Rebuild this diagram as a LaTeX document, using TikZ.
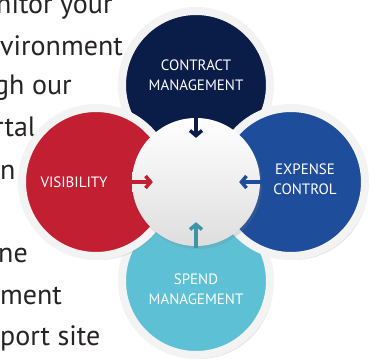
\documentclass[tikz,border=0pt]{standalone}
\usepackage{fontspec}
\setmainfont{PT Sans}
\usetikzlibrary{shadows,arrows.meta}
\definecolor{navyc}{HTML}{0A1C48}
\definecolor{redc}{HTML}{C21F32}
\definecolor{bluec}{HTML}{1E4D9B}
\definecolor{skyc}{HTML}{5EC0D5}
\definecolor{tealc}{HTML}{3F95A8}
\definecolor{rimc}{HTML}{F3F3F3}
\definecolor{textc}{HTML}{262324}
\begin{document}
\begin{tikzpicture}[x=1pt, y=1pt, node distance={97pt},
		main/.style = {circle, draw=rimc, line width=8pt, minimum size=148pt, drop shadow={opacity=0.22, shadow xshift=3pt, shadow yshift=-4pt}},
		hub/.style = {circle, minimum size=128pt, top color=white, bottom color=black!13, drop shadow={opacity=0.2, shadow xshift=2pt, shadow yshift=-3pt}},
		arr/.style = {line width=3.5pt, -{Straight Barb[length=5pt, width=12pt]}},
		side/.style = {anchor=base west, inner sep=0pt, text=textc, font=\fontsize{28}{34}\selectfont},
		every label/.style = {text=white, align=center, font=\fontsize{15}{20}\selectfont}]
		\useasboundingbox (0,0) rectangle (378,360);
		\clip (0,0) rectangle (378,360);
		% text behind the circles
		\node[side] (t1) at (-4,347) {nitor your};
		\node[side] (t2) at (0,305) {vironment};
		\node[side] (t3) at (-6,266) {gh our};
		\node[side] (t4) at (-6,224) {rtal};
		\node[side] (t5) at (0,181) {n};
		\node[side] (t6) at (-2,97.5) {ne};
		\node[side] (t7) at (0,56) {ment};
		\node[side] (t8) at (0,15) {port site};
		% the four circles round the hub
		\coordinate (0) at (196,178);
		\node[main, fill=navyc, label={[yshift=10pt]center:{CONTRACT\\MANAGEMENT}}] (1) [above of=0] {};
		\node[main, fill=skyc, label={[yshift=-8pt]center:{SPEND\\MANAGEMENT}}] (3) [below of=0, node distance=99pt] {};
		\node[main, fill=redc, label={[xshift=-22pt]center:VISIBILITY}] (4) [left of=0, node distance=100pt] {};
		\node[main, fill=bluec, label={[xshift=14pt, yshift=3pt]center:{EXPENSE\\CONTROL}}] (2) [right of=0, node distance=95pt] {};
		\node[hub] (h) at (0) {};
		% arrows into the hub
		\draw[arr, navyc] ([yshift=3pt]h.north) -- ([yshift=-20pt]h.north);
		\draw[arr, bluec] ([xshift=2pt]h.east) -- ([xshift=-21pt]h.east);
		\draw[arr, tealc] ([yshift=-2pt]h.south) -- ([yshift=24pt]h.south);
		\draw[arr, redc] ([xshift=-2pt]h.west) -- ([xshift=21pt]h.west);
	\end{tikzpicture}
\end{document}
